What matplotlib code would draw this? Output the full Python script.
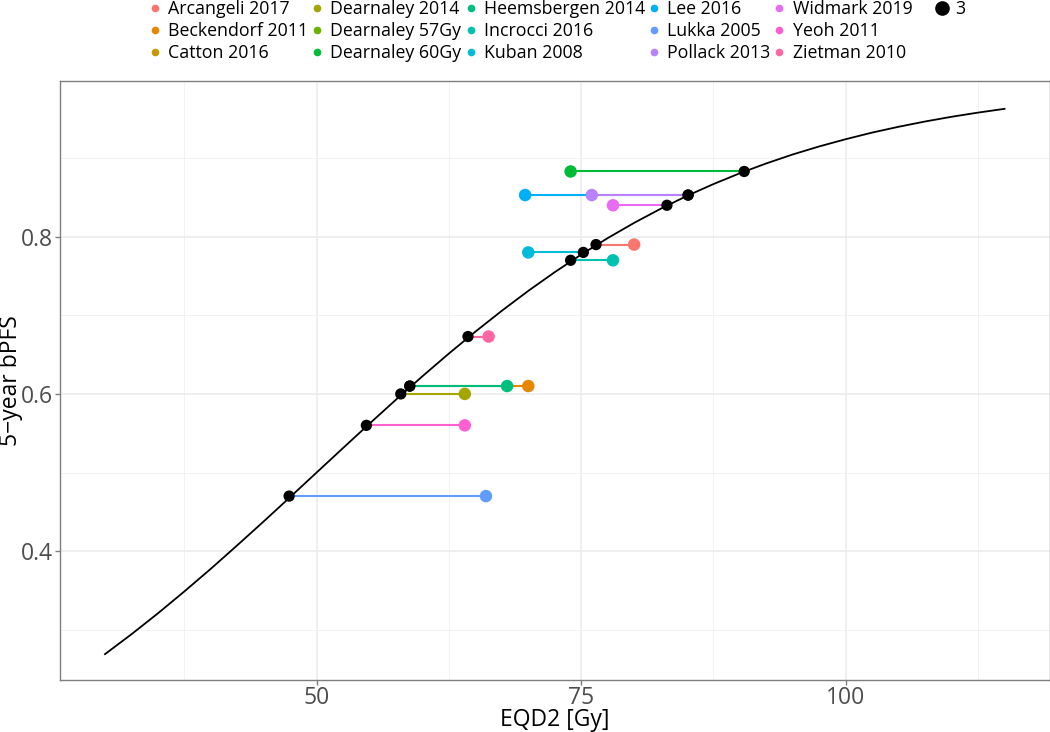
import numpy as np
import matplotlib.pyplot as plt
from matplotlib.lines import Line2D
from matplotlib.ticker import MultipleLocator

plt.rcParams['font.family'] = ['Open Sans', 'DejaVu Sans']

# studies, colours as in the legend
studies = ["Arcangeli 2017", "Beckendorf 2011", "Catton 2016", "Dearnaley 2014",
           "Dearnaley 57Gy", "Dearnaley 60Gy", "Heemsbergen 2014", "Incrocci 2016",
           "Kuban 2008", "Lee 2016", "Lukka 2005", "Pollack 2013",
           "Widmark 2019", "Yeoh 2011", "Zietman 2010"]
colors = ["#F8766D", "#E58700", "#C99800", "#A3A500", "#6BB100", "#00BA38",
          "#00BF7D", "#00C0AF", "#00BCD8", "#00B0F6", "#619CFF", "#B983FF",
          "#E76BF3", "#FD61D1", "#FF67A4"]
# reported EQD2 (coloured dots), model EQD2 (black dots), 5-year bPFS
eqd2_study = [80.0, 70.0, np.nan, 64.0, np.nan, 74.0, 68.0, 78.0,
              70.0, 69.7, 66.0, 76.0, 78.0, 64.0, 66.25]
eqd2_model = [76.4, 58.8, np.nan, 57.95, np.nan, 90.4, 58.8, 74.0,
              75.2, 85.1, 47.4, 85.1, 83.1, 54.7, 64.3]
bpfs = [0.790, 0.610, np.nan, 0.600, np.nan, 0.883, 0.610, 0.770,
        0.780, 0.853, 0.470, 0.853, 0.840, 0.560, 0.673]

# dose-response curve
curve_dose = [30, 32.5, 35, 37.5, 40, 42.5, 45, 47.5, 50, 52.5, 55, 57.5, 60, 62.5,
              65, 67.5, 70, 72.5, 75, 77.5, 80, 82.5, 85, 87.5, 90, 92.5, 95, 97.5,
              100, 102.5, 105, 107.5, 110, 112.5, 115]
curve_bpfs = [0.2689, 0.2942, 0.3208, 0.3487, 0.3775, 0.4074, 0.4378, 0.4688, 0.5000,
              0.5312, 0.5622, 0.5927, 0.6225, 0.6514, 0.6792, 0.7058, 0.7311, 0.7549,
              0.7773, 0.7982, 0.8176, 0.8355, 0.8520, 0.8670, 0.8808, 0.8933, 0.9047,
              0.9149, 0.9241, 0.9325, 0.9399, 0.9466, 0.9526, 0.9579, 0.9627]

fig = plt.figure(figsize=(10.5, 7.32), dpi=100)
ax = fig.add_axes([60/1050, 1 - 679.7/732, (1049.5 - 60)/1050, (679.7 - 81.4)/732])

for i in range(len(studies)):
    ax.plot([eqd2_model[i], eqd2_study[i]], [bpfs[i], bpfs[i]], color=colors[i], lw=1.5, zorder=2)
ax.plot(curve_dose, curve_bpfs, color="black", lw=1.3, zorder=3)
for i in range(len(studies)):
    ax.scatter(eqd2_study[i], bpfs[i], s=81, color=colors[i], edgecolors="none", zorder=4)
ax.scatter(eqd2_model, bpfs, s=66, color="black", edgecolors="none", zorder=5)

ax.set_xlim(25.75, 119.25)
ax.set_ylim(0.2364, 0.9976)
ax.xaxis.set_major_locator(MultipleLocator(25))
ax.xaxis.set_minor_locator(MultipleLocator(12.5))
ax.yaxis.set_minor_locator(MultipleLocator(0.1))
ax.set_yticks([0.4, 0.6, 0.8])
ax.set_yticklabels(["0.4", "0.6", "0.8"])
ax.grid(which="major", color="#EBEBEB", lw=1.1)
ax.grid(which="minor", color="#F2F2F2", lw=0.7)
ax.set_axisbelow(True)
ax.tick_params(which="major", length=3.6, width=1.0, color="#7F7F7F",
               labelcolor="#4D4D4D", labelsize=16.5, pad=1.5)
ax.tick_params(axis="x", pad=1)
ax.tick_params(which="minor", length=0)
for s in ax.spines.values():
    s.set_color("#7F7F7F")
    s.set_linewidth(1.0)
ax.set_xlabel("EQD2 [Gy]", fontsize=16.5)
ax.set_ylabel("5\u2212year bPFS", fontsize=16.5)
ax.xaxis.set_label_coords(0.5, (679.7 - 708.5) / 598.3)
ax.yaxis.set_label_coords((23 - 60) / 989.5, 0.5)

handles = [Line2D([], [], marker="o", ls="none", color=c, markersize=4.5) for c in colors]
fig.legend(handles, studies, ncol=5, loc="upper left", bbox_to_anchor=(150.5/1050, 1.0),
           frameon=False, fontsize=12.8, handlelength=0.5, handletextpad=0.5,
           columnspacing=0.25, labelspacing=0.23, borderpad=0, borderaxespad=0)
size_handle = [Line2D([], [], marker="o", ls="none", color="black", markersize=9.5)]
fig.legend(size_handle, ["3"], loc="upper left", bbox_to_anchor=(935/1050, 1.0),
           frameon=False, fontsize=12.8, handlelength=0.8, handletextpad=0.35,
           borderpad=0, borderaxespad=0)

fig.savefig("out.png", dpi=100)
